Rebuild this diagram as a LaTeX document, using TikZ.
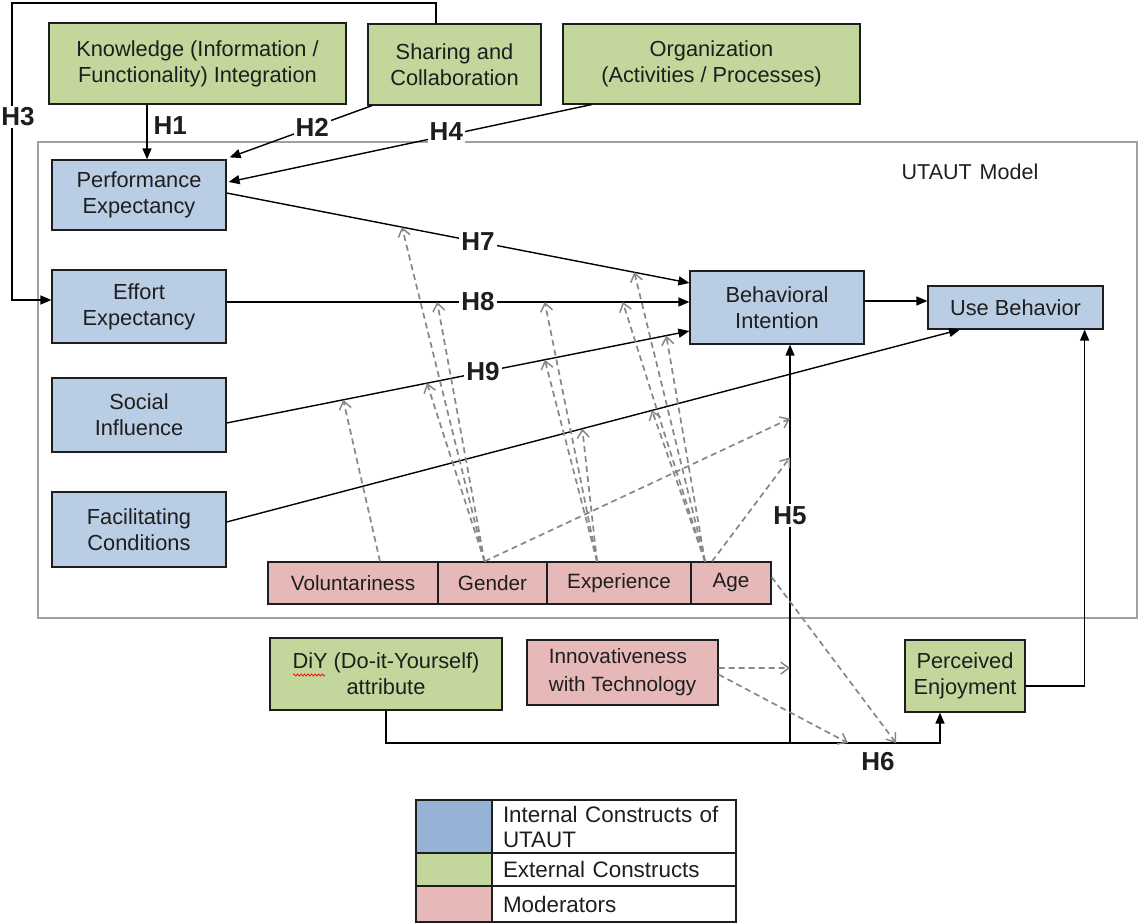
\documentclass[tikz,border=0pt]{standalone}
\usepackage{fontspec}
\setmainfont{Liberation Sans}
\usetikzlibrary{arrows.meta,calc,decorations.pathmorphing}

\definecolor{intblue}{RGB}{185,205,228}
\definecolor{extgreen}{RGB}{195,214,155}
\definecolor{modpink}{RGB}{230,185,184}
\definecolor{legblue}{RGB}{149,179,215}
\definecolor{framegray}{RGB}{160,160,160}
\definecolor{modgray}{RGB}{135,135,135}
\definecolor{ink}{RGB}{30,30,30}

\begin{document}
\begin{tikzpicture}[x=1pt,y=-1pt,
  box/.style={draw=ink, line width=1.2pt, align=center, text=ink,
    font=\fontsize{21.8}{26}\selectfont, inner sep=0pt},
  internal/.style={box, fill=intblue},
  external/.style={box, fill=extgreen},
  moderator/.style={box, fill=modpink, font=\fontsize{20.7}{28}\selectfont},
  conn/.style={line width=1.4pt, draw=black, -{Triangle[length=11pt,width=9pt]}},
  modarrow/.style={line width=1.7pt, draw=modgray, dash pattern=on 6pt off 4pt,
    -{Straight Barb[length=8pt,width=12pt,line width=1.5pt]}},
  hyp/.style={font=\fontsize{26}{26}\selectfont\bfseries, text=ink, fill=white, inner sep=2pt},
  legcell/.style={draw=ink, line width=1.2pt, inner sep=0pt},
  legtext/.style={legcell, align=left, text=ink, font=\fontsize{22.4}{25}\selectfont,
    text width=222pt, inner xsep=11pt, minimum width=244pt},
]
\useasboundingbox (0,0) rectangle (1138,923);

% UTAUT model frame
\draw[framegray, line width=1.6pt] (38,142) rectangle (1137,618);
\node[font=\fontsize{21.5}{24}\selectfont, text=ink] (utaut) at (970,172) {UTAUT\hspace{8pt}Model};

% external constructs (top row)
\node[external, minimum width=297pt, minimum height=81pt] (kn) at (197.5,63.5)
  {Knowledge (Information /\\Functionality) Integration};
\node[external, minimum width=173pt, minimum height=81pt] (sc) at (454.5,64.5)
  {Sharing and\\Collaboration};
\node[external, minimum width=297pt, minimum height=80pt] (org) at (711.5,64)
  {Organization\\(Activities / Processes)};

% internal constructs
\node[internal, minimum width=174pt, minimum height=70pt] (pe) at (139,195)
  {Performance\\Expectancy};
\node[internal, minimum width=174pt, minimum height=73pt] (ee) at (139,306.5)
  {Effort\\Expectancy};
\node[internal, minimum width=174pt, minimum height=74pt] (si) at (139,415)
  {Social\\Influence};
\node[internal, minimum width=174pt, minimum height=75pt] (fc) at (139,529.5)
  {Facilitating\\Conditions};
\node[internal, minimum width=174pt, minimum height=73pt] (bi) at (777,307.5)
  {Behavioral\\Intention};
\node[internal, minimum width=175pt, minimum height=43pt] (ub) at (1015.5,307.5)
  {Use Behavior};

% moderators
\node[moderator, minimum width=170pt, minimum height=42pt] (vol) at (353,583) {Voluntariness};
\node[moderator, minimum width=109pt, minimum height=42pt] (gen) at (492.5,583) {Gender};
\node[moderator, minimum width=144pt, minimum height=42pt] (exp) at (619,583) {Experience};
\node[moderator, minimum width=80pt, minimum height=42pt] (age) at (731,583) {Age};

% lower row
\node[external, minimum width=232pt, minimum height=72pt] (diy) at (386,674)
  {DiY (Do-it-Yourself)\\attribute};
\node[moderator, minimum width=191pt, minimum height=65pt, align=left] (inn) at (622.5,672.5)
  {Innovativeness\\with Technology};
\node[external, minimum width=120pt, minimum height=72pt] (penj) at (965,676)
  {Perceived\\Enjoyment};
\draw[red, line width=0.7pt, decorate,
  decoration={snake, amplitude=1.1pt, segment length=3.5pt}] (293,675) -- (325,675);

% hypotheses into performance / effort expectancy
\coordinate (h3top) at (12,3);
\draw[conn] ([xshift=-18.5pt]sc.north) |- (h3top) |- ([yshift=6.5pt]ee.west);
\node[hyp] (h3) at (18,117) {H3};
\draw[conn] ([xshift=-50.5pt]kn.south) -- ([xshift=8pt]pe.north)
  node[pos=0.38, right=4pt, hyp, fill=none] (h1) {H1};
\draw[conn] ([xshift=-82.5pt]sc.south) -- ([xshift=3pt,yshift=2pt]pe.north east)
  node[pos=0.42, hyp] (h2) {H2};
\draw[conn] ([xshift=-120pt]org.south) -- ([xshift=2pt,yshift=13pt]pe.east)
  node[pos=0.40, hyp, yshift=4pt] (h4) {H4};

% UTAUT core paths
\draw[conn] ([yshift=2pt]pe.east) --
  coordinate[pos=0.379] (h7a) coordinate[pos=0.881] (h7b)
  node[pos=0.543, hyp] (h7) {H7} ([yshift=24.5pt]bi.west);
\draw[conn] ([yshift=4.5pt]ee.east) --
  coordinate[pos=0.455] (h8a) coordinate[pos=0.6875] (h8b) coordinate[pos=0.856] (h8c)
  node[pos=0.543, hyp] (h8) {H8} ([yshift=5.5pt]bi.west);
\draw[conn] ([yshift=-8pt]si.east) --
  coordinate[pos=0.252] (h9a) coordinate[pos=0.433] (h9b)
  coordinate[pos=0.6875] (h9c) coordinate[pos=0.95] (h9d)
  node[pos=0.554, hyp] (h9) {H9} ([yshift=-23.5pt]bi.west);
\draw[conn] ([yshift=7.5pt]fc.east) --
  coordinate[pos=0.485] (fca) coordinate[pos=0.58] (fcb) ([xshift=-55.5pt]ub.south);
\draw[conn] ([yshift=6.5pt]bi.east) -- ([yshift=6.5pt]ub.west);

% DiY attribute paths
\coordinate (h6bend) at (940,743);
\coordinate (h5foot) at (790,743);
\draw[conn] (diy.south) |- (h6bend) -- ([xshift=-25pt]penj.south);
\node[hyp, fill=none] (h6) at (878,762) {H6};
\draw[conn] (h5foot) --
  coordinate[pos=0.8145] (h5a) coordinate[pos=0.7168] (h5b) coordinate[pos=0.188] (h5c)
  node[pos=0.571, hyp] (h5) {H5} (h5foot |- bi.south);
\draw[conn] ([yshift=-10pt]penj.east) -| ([xshift=-19pt]ub.south east);

% moderating effects
\coordinate (h6a) at (848,743);
\coordinate (h6b) at (896,743);
\draw[modarrow] ([xshift=27pt]vol.north) -- (h9a);
\draw[modarrow] ([xshift=-8pt]gen.north) -- (h7a);
\draw[modarrow] ([xshift=-8pt]gen.north) -- (h8a);
\draw[modarrow] ([xshift=-8pt]gen.north) -- (h9b);
\draw[modarrow] ([xshift=-8pt]gen.north) -- (h5a);
\draw[modarrow] ([xshift=-22pt]exp.north) -- (h8b);
\draw[modarrow] ([xshift=-22pt]exp.north) -- (h9c);
\draw[modarrow] ([xshift=-22pt]exp.north) -- (fca);
\draw[modarrow] ([xshift=-26pt]age.north) -- (h7b);
\draw[modarrow] ([xshift=-26pt]age.north) -- (h8c);
\draw[modarrow] ([xshift=-26pt]age.north) -- (h9d);
\draw[modarrow] ([xshift=-26pt]age.north) -- (fcb);
\draw[modarrow] ([xshift=-19pt]age.north) -- (h5b);
\draw[modarrow] ([yshift=6pt]age.east) -- (h6b);
\draw[modarrow] ([yshift=4.5pt]inn.east) -- (h5c);
\draw[modarrow] ([yshift=-2pt]inn.east) -- (h6a);

% legend
\node[legcell, fill=legblue, minimum width=76pt, minimum height=53pt] (lgb) at (454,826.5) {};
\node[legcell, fill=extgreen, minimum width=76pt, minimum height=33pt] (lgg) at (454,869.5) {};
\node[legcell, fill=modpink, minimum width=76pt, minimum height=36pt] (lgr) at (454,904) {};
\node[legtext, minimum height=53pt] (lgbt) at (614,826.5) {Internal Constructs of\\UTAUT};
\node[legtext, minimum height=33pt] (lggt) at (614,869.5) {External Constructs};
\node[legtext, minimum height=36pt] (lgrt) at (614,904) {Moderators};
\end{tikzpicture}
\end{document}
